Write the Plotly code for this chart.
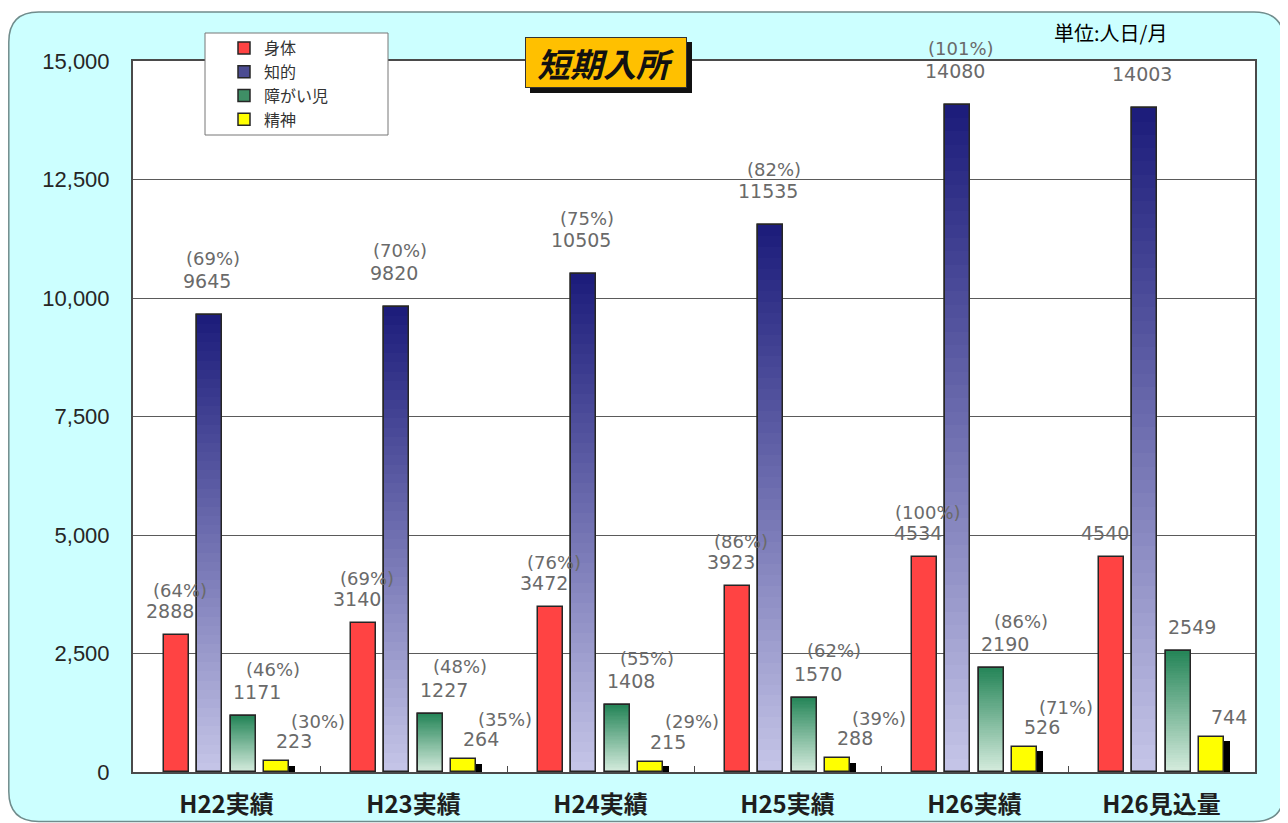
import plotly.graph_objects as go

# ---------------- data ----------------
categories = ["H22実績", "H23実績", "H24実績", "H25実績", "H26実績", "H26見込量"]
series_names = ["身体", "知的", "障がい児", "精神"]
shintai = [2888, 3140, 3472, 3923, 4534, 4540]
chiteki = [9645, 9820, 10505, 11535, 14080, 14003]
shogaiji = [1171, 1227, 1408, 1570, 2190, 2549]
seishin = [223, 264, 215, 288, 526, 744]
shintai_pct = [64, 69, 76, 86, 100, None]
chiteki_pct = [69, 70, 75, 82, 101, None]
shogaiji_pct = [46, 48, 55, 62, 86, None]
seishin_pct = [30, 35, 29, 39, 71, None]
y_ticks = [0, 2500, 5000, 7500, 10000, 12500, 15000]
title_text = "短期入所"
unit_text = "単位:人日/月"

# ---------------- layout constants ----------------
# the page body has an 8px margin: figure pixel = screen pixel - 8
BODY = 8
W, H = 1280, 815
SL, SR, ST, SB = 133, 1255, 61, 772   # plot area in screen pixels
PL, PR, PT, PB = SL - BODY, SR - BODY, ST - BODY, SB - BODY


def X(sx):
    return (sx - BODY - PL) / (PR - PL)


def Y(sy):
    return (PB - (sy - BODY)) / (PB - PT)


CJK = "Noto Sans CJK JP, sans-serif"
NUMF = "DejaVu Sans, sans-serif"
BAR_W = 0.134
OUTLINE = "#262626"


def hex2rgb(h):
    h = h.lstrip("#")
    return tuple(int(h[i:i + 2], 16) for i in (0, 2, 4))


def mix(c1, c2, t):
    a, b = hex2rgb(c1), hex2rgb(c2)
    return "rgb(%d,%d,%d)" % tuple(round(a[k] + (b[k] - a[k]) * t) for k in range(3))


series = [
    dict(name=series_names[0], vals=shintai, pct=shintai_pct, off=-0.266,
         solid="#FF4343", grad=None, num=(-7, 24), pc=(3, 45)),
    dict(name=series_names[1], vals=chiteki, pct=chiteki_pct, off=-0.089,
         solid="#4C4C92", grad=("#1B1B7A", "#C6C6E8"), num=(-3, 34), pc=(3, 56)),
    dict(name=series_names[2], vals=shogaiji, pct=shogaiji_pct, off=0.089,
         solid="#3F8F66", grad=("#258558", "#D6ECDE"), num=(14, 24), pc=(30, 47)),
    dict(name=series_names[3], vals=seishin, pct=seishin_pct, off=0.266,
         solid="#FFFF00", grad=None, num=(18, 20), pc=(42, 40), shadow=True),
]

fig = go.Figure()
N_LAYERS = 50
annotations = []

for rank, s in enumerate(series):
    xs = [i + s["off"] for i in range(len(categories))]
    if s.get("shadow"):
        fig.add_trace(go.Bar(
            x=[x + 0.032 for x in xs], y=s["vals"], base=[-90] * len(xs),
            width=BAR_W, marker=dict(color="#000000", line=dict(width=0)),
            showlegend=False, hoverinfo="skip"))
    fig.add_trace(go.Bar(
        x=xs, y=s["vals"], width=BAR_W, name=s["name"], legendrank=rank + 1,
        marker=dict(color=s["solid"], line=dict(color=OUTLINE, width=1.5)),
        hovertemplate="%{y}<extra>" + s["name"] + "</extra>"))
    if s["grad"]:
        top, bottom = s["grad"]
        for k in range(N_LAYERS):
            frac = (N_LAYERS - k) / N_LAYERS
            t = (k + 0.5) / N_LAYERS
            fig.add_trace(go.Bar(
                x=xs, y=[v * frac for v in s["vals"]], width=BAR_W,
                marker=dict(color=mix(top, bottom, t), line=dict(width=0)),
                showlegend=False, hoverinfo="skip"))
        fig.add_trace(go.Bar(
            x=xs, y=s["vals"], width=BAR_W,
            marker=dict(color="rgba(0,0,0,0)", line=dict(color=OUTLINE, width=1.5)),
            showlegend=False, hoverinfo="skip"))
    # labels
    for i, v in enumerate(s["vals"]):
        annotations.append(dict(
            x=xs[i], y=v, xref="x", yref="y", text=str(v), showarrow=False,
            xshift=s["num"][0], yshift=s["num"][1], yanchor="middle",
            font=dict(family=NUMF, size=19, color="#6A6A6A")))
        p = s["pct"][i]
        if p is not None:
            annotations.append(dict(
                x=xs[i], y=v, xref="x", yref="y", text="(%d%%)" % p, showarrow=False,
                xshift=s["pc"][0], yshift=s["pc"][1], yanchor="middle",
                font=dict(family=NUMF, size=18, color="#6A6A6A")))

# title box (shadow drawn as a shape underneath)
annotations.append(dict(
    x=X(606), y=Y(62.5), xref="paper", yref="paper", text=title_text,
    showarrow=False, xanchor="center", yanchor="middle",
    width=156, height=45, borderpad=2,
    bgcolor="#FFC000", bordercolor="#333333", borderwidth=1,
    font=dict(family=CJK, size=33, weight="bold", style="italic", color="#111111")))

annotations.append(dict(
    x=X(1110), y=Y(33), xref="paper", yref="paper", text=unit_text,
    showarrow=False, xanchor="center", yanchor="middle",
    font=dict(family=CJK, size=20, color="#000000")))


def rounded(x0, y0, x1, y1, r):
    rx = r / (PR - PL)
    ry = r / (PB - PT)
    a, b, c, d = X(x0), Y(y0), X(x1), Y(y1)
    return ("M {} {} L {} {} Q {} {} {} {} L {} {} Q {} {} {} {} L {} {} "
            "Q {} {} {} {} L {} {} Q {} {} {} {} Z").format(
        a + rx, b, c - rx, b, c, b, c, b - ry, c, d + ry, c, d, c - rx, d,
        a + rx, d, a, d, a, d + ry, a, b - ry, a, b, a + rx, b)


shapes = [
    dict(type="path", xref="paper", yref="paper", layer="below",
         path=rounded(8.8, 12, 1284, 821.5, 30), fillcolor="#CCFFFF",
         line=dict(color="#708C8C", width=1.5)),
    dict(type="rect", xref="paper", yref="paper", layer="below",
         x0=0, y0=0, x1=1, y1=1, fillcolor="#FFFFFF", line=dict(width=0)),
    dict(type="rect", xref="paper", yref="paper", layer="above",
         x0=X(205), y0=Y(135), x1=X(388), y1=Y(33), fillcolor="#FFFFFF",
         line=dict(color="#777777", width=1)),
    dict(type="rect", xref="paper", yref="paper", layer="above",
         x0=X(530), y0=Y(93), x1=X(692), y1=Y(42), fillcolor="#111111",
         line=dict(width=0)),
]

fig.update_layout(
    width=W, height=H,
    margin=dict(l=PL, r=W - PR, t=PT, b=H - PB, pad=0, autoexpand=False),
    paper_bgcolor="#FFFFFF", plot_bgcolor="rgba(0,0,0,0)",
    barmode="overlay", bargap=0,
    showlegend=True,
    legend=dict(x=X(224), y=Y(31), xanchor="left", yanchor="top",
                bgcolor="rgba(0,0,0,0)", borderwidth=0,
                font=dict(family=CJK, size=16, color="#333333"),
                tracegroupgap=0, itemwidth=30),
    annotations=annotations,
    shapes=shapes,
    xaxis=dict(range=[-0.5, 5.5], tickmode="array", automargin=False,
               tickvals=list(range(len(categories))), ticktext=categories,
               ticks="", showgrid=False, zeroline=False,
               showline=True, mirror=True, linecolor="#4A4A4A", linewidth=2,
               tickfont=dict(family=CJK, size=24, weight="bold", color="#1E1E1E"),
               ticklabelstandoff=10,
               minor=dict(tickmode="array", tickvals=[0.5, 1.5, 2.5, 3.5, 4.5],
                          ticks="inside", ticklen=6, tickwidth=1,
                          tickcolor="#4A4A4A", showgrid=False)),
    yaxis=dict(range=[0, 15000], tickmode="array", tickvals=y_ticks,
               automargin=False,
               tickformat=",", showgrid=True, gridcolor="#5A5A5A", gridwidth=1,
               zeroline=False, showline=True, mirror=True,
               linecolor="#4A4A4A", linewidth=2, ticks="",
               tickfont=dict(family="Liberation Sans, Arial, sans-serif",
                             size=22, color="#262626"),
               ticklabelstandoff=17),
)

fig.write_html("out.html")
